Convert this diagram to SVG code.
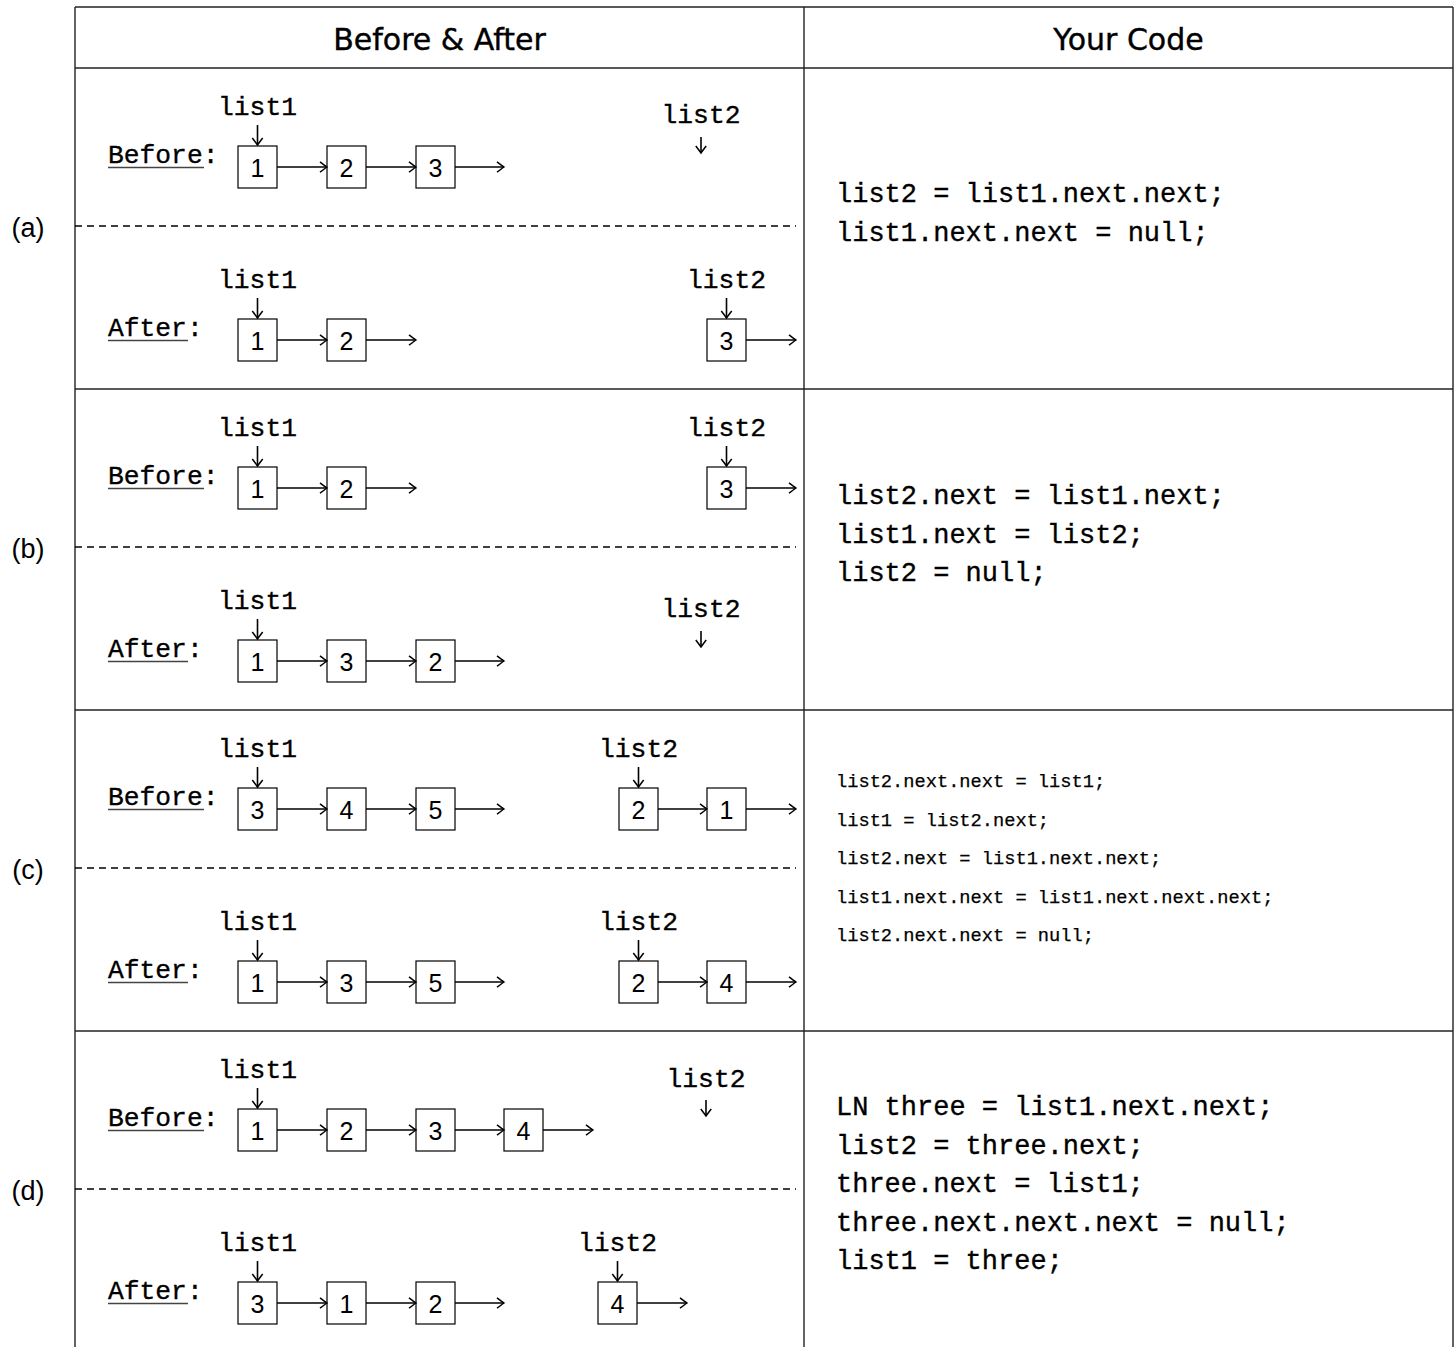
<svg xmlns="http://www.w3.org/2000/svg" width="1456" height="1347" viewBox="0 0 1456 1347">
<style>
.tt{font-family:"Liberation Mono","DejaVu Sans Mono",monospace;font-size:26.3px;fill:#000;stroke:#000;stroke-width:0.35}
.lbl{font-family:"Liberation Mono","DejaVu Sans Mono",monospace;font-size:26.3px;fill:#000;stroke:#000;stroke-width:0.35;text-anchor:middle}
.code{font-family:"Liberation Mono","DejaVu Sans Mono",monospace;font-size:27px;fill:#000;stroke:#000;stroke-width:0.35}
.codes{font-family:"Liberation Mono","DejaVu Sans Mono",monospace;font-size:18.7px;fill:#000;stroke:#000;stroke-width:0.25}
.num{font-family:"Liberation Sans",Arial,sans-serif;font-size:25px;fill:#000;text-anchor:middle}
.hdr{font-family:"DejaVu Sans",sans-serif;font-size:30px;fill:#000;stroke:#000;stroke-width:0.4;text-anchor:middle}
.row{font-family:"Liberation Sans",Arial,sans-serif;font-size:27px;fill:#000;text-anchor:middle}
.box{fill:#fff;stroke:#000;stroke-width:1.2}
.grid{stroke:#222;stroke-width:1.4;fill:none}
.dash{stroke:#000;stroke-width:1.6;stroke-dasharray:7 5;fill:none}
.ul{stroke:#444;stroke-width:1.3}
.c{stroke:#000;stroke-width:1.6;fill:none;marker-end:url(#ah)}
</style>
<defs>
<marker id="ah" markerUnits="userSpaceOnUse" markerWidth="14" markerHeight="14" refX="11" refY="7" orient="auto">
<path d="M4 1.8 Q9 5.6 11 7 Q9 8.4 4 12.2" fill="none" stroke="#000" stroke-width="1.5"/>
</marker>
</defs>
<rect width="1456" height="1347" fill="#fff"/>

<g id="table">
<line class="grid" x1="75" y1="7" x2="1453" y2="7"/>
<line class="grid" x1="75" y1="68" x2="1453" y2="68"/>
<line class="grid" x1="75" y1="389" x2="1453" y2="389"/>
<line class="grid" x1="75" y1="710" x2="1453" y2="710"/>
<line class="grid" x1="75" y1="1031" x2="1453" y2="1031"/>
<line class="grid" x1="75" y1="7" x2="75" y2="1347"/>
<line class="grid" x1="804" y1="7" x2="804" y2="1347"/>
<line class="grid" x1="1453" y1="7" x2="1453" y2="1347"/>
<line class="dash" x1="75" y1="226" x2="796" y2="226"/>
<line class="dash" x1="75" y1="547" x2="796" y2="547"/>
<line class="dash" x1="75" y1="868" x2="796" y2="868"/>
<line class="dash" x1="75" y1="1189" x2="796" y2="1189"/>
<text class="hdr" x="439.5" y="50">Before &amp; After</text>
<text class="hdr" x="1128.5" y="50">Your Code</text>
<text class="row" x="28" y="237">(a)</text>
<text class="row" x="28" y="558">(b)</text>
<text class="row" x="28" y="879">(c)</text>
<text class="row" x="28" y="1200">(d)</text>
</g>

<g id="labels">
<text class="tt" x="108" y="163">Before:</text><line class="ul" x1="108" y1="167.5" x2="204" y2="167.5"/>
<text class="tt" x="108" y="336">After:</text><line class="ul" x1="108" y1="340.5" x2="188" y2="340.5"/>
<text class="tt" x="108" y="484">Before:</text><line class="ul" x1="108" y1="488.5" x2="204" y2="488.5"/>
<text class="tt" x="108" y="657">After:</text><line class="ul" x1="108" y1="661.5" x2="188" y2="661.5"/>
<text class="tt" x="108" y="805">Before:</text><line class="ul" x1="108" y1="809.5" x2="204" y2="809.5"/>
<text class="tt" x="108" y="978">After:</text><line class="ul" x1="108" y1="982.5" x2="188" y2="982.5"/>
<text class="tt" x="108" y="1126">Before:</text><line class="ul" x1="108" y1="1130.5" x2="204" y2="1130.5"/>
<text class="tt" x="108" y="1299">After:</text><line class="ul" x1="108" y1="1303.5" x2="188" y2="1303.5"/>
</g>

<g id="pointers">
<text class="lbl" x="257.5" y="115">list1</text>
<text class="lbl" x="701" y="123">list2</text>
<text class="lbl" x="257.5" y="288">list1</text>
<text class="lbl" x="726.5" y="288">list2</text>
<text class="lbl" x="257.5" y="436">list1</text>
<text class="lbl" x="726.5" y="436">list2</text>
<text class="lbl" x="257.5" y="609">list1</text>
<text class="lbl" x="701" y="617">list2</text>
<text class="lbl" x="257.5" y="757">list1</text>
<text class="lbl" x="638.5" y="757">list2</text>
<text class="lbl" x="257.5" y="930">list1</text>
<text class="lbl" x="638.5" y="930">list2</text>
<text class="lbl" x="257.5" y="1078">list1</text>
<text class="lbl" x="706" y="1087">list2</text>
<text class="lbl" x="257.5" y="1251">list1</text>
<text class="lbl" x="617.5" y="1251">list2</text>
</g>

<g id="a-before">
<g id="a-b-1"><rect class="box" x="238" y="146" width="39" height="42"/><text class="num" x="257.5" y="177">1</text></g>
<g id="a-b-2"><rect class="box" x="327" y="146" width="39" height="42"/><text class="num" x="346.5" y="177">2</text></g>
<g id="a-b-3"><rect class="box" x="416" y="146" width="39" height="42"/><text class="num" x="435.5" y="177">3</text></g>
</g>
<g id="a-after">
<g id="a-a-1"><rect class="box" x="238" y="319" width="39" height="42"/><text class="num" x="257.5" y="350">1</text></g>
<g id="a-a-2"><rect class="box" x="327" y="319" width="39" height="42"/><text class="num" x="346.5" y="350">2</text></g>
<g id="a-a-3"><rect class="box" x="707" y="319" width="39" height="42"/><text class="num" x="726.5" y="350">3</text></g>
</g>
<g id="b-before">
<g id="b-b-1"><rect class="box" x="238" y="467" width="39" height="42"/><text class="num" x="257.5" y="498">1</text></g>
<g id="b-b-2"><rect class="box" x="327" y="467" width="39" height="42"/><text class="num" x="346.5" y="498">2</text></g>
<g id="b-b-3"><rect class="box" x="707" y="467" width="39" height="42"/><text class="num" x="726.5" y="498">3</text></g>
</g>
<g id="b-after">
<g id="b-a-1"><rect class="box" x="238" y="640" width="39" height="42"/><text class="num" x="257.5" y="671">1</text></g>
<g id="b-a-3"><rect class="box" x="327" y="640" width="39" height="42"/><text class="num" x="346.5" y="671">3</text></g>
<g id="b-a-2"><rect class="box" x="416" y="640" width="39" height="42"/><text class="num" x="435.5" y="671">2</text></g>
</g>
<g id="c-before">
<g id="c-b-3"><rect class="box" x="238" y="788" width="39" height="42"/><text class="num" x="257.5" y="819">3</text></g>
<g id="c-b-4"><rect class="box" x="327" y="788" width="39" height="42"/><text class="num" x="346.5" y="819">4</text></g>
<g id="c-b-5"><rect class="box" x="416" y="788" width="39" height="42"/><text class="num" x="435.5" y="819">5</text></g>
<g id="c-b-2"><rect class="box" x="619" y="788" width="39" height="42"/><text class="num" x="638.5" y="819">2</text></g>
<g id="c-b-1"><rect class="box" x="707" y="788" width="39" height="42"/><text class="num" x="726.5" y="819">1</text></g>
</g>
<g id="c-after">
<g id="c-a-1"><rect class="box" x="238" y="961" width="39" height="42"/><text class="num" x="257.5" y="992">1</text></g>
<g id="c-a-3"><rect class="box" x="327" y="961" width="39" height="42"/><text class="num" x="346.5" y="992">3</text></g>
<g id="c-a-5"><rect class="box" x="416" y="961" width="39" height="42"/><text class="num" x="435.5" y="992">5</text></g>
<g id="c-a-2"><rect class="box" x="619" y="961" width="39" height="42"/><text class="num" x="638.5" y="992">2</text></g>
<g id="c-a-4"><rect class="box" x="707" y="961" width="39" height="42"/><text class="num" x="726.5" y="992">4</text></g>
</g>
<g id="d-before">
<g id="d-b-1"><rect class="box" x="238" y="1109" width="39" height="42"/><text class="num" x="257.5" y="1140">1</text></g>
<g id="d-b-2"><rect class="box" x="327" y="1109" width="39" height="42"/><text class="num" x="346.5" y="1140">2</text></g>
<g id="d-b-3"><rect class="box" x="416" y="1109" width="39" height="42"/><text class="num" x="435.5" y="1140">3</text></g>
<g id="d-b-4"><rect class="box" x="504" y="1109" width="39" height="42"/><text class="num" x="523.5" y="1140">4</text></g>
</g>
<g id="d-after">
<g id="d-a-3"><rect class="box" x="238" y="1282" width="39" height="42"/><text class="num" x="257.5" y="1313">3</text></g>
<g id="d-a-1"><rect class="box" x="327" y="1282" width="39" height="42"/><text class="num" x="346.5" y="1313">1</text></g>
<g id="d-a-2"><rect class="box" x="416" y="1282" width="39" height="42"/><text class="num" x="435.5" y="1313">2</text></g>
<g id="d-a-4"><rect class="box" x="598" y="1282" width="39" height="42"/><text class="num" x="617.5" y="1313">4</text></g>
</g>

<g id="connectors">
<line class="c" x1="257.5" y1="125" x2="257.5" y2="145"/>
<line class="c" x1="701" y1="137" x2="701" y2="153"/>
<line class="c" x1="277" y1="167" x2="327" y2="167"/>
<line class="c" x1="366" y1="167" x2="416" y2="167"/>
<line class="c" x1="455" y1="167" x2="504" y2="167"/>
<line class="c" x1="257.5" y1="298" x2="257.5" y2="318"/>
<line class="c" x1="726.5" y1="298" x2="726.5" y2="318"/>
<line class="c" x1="277" y1="340" x2="327" y2="340"/>
<line class="c" x1="366" y1="340" x2="416" y2="340"/>
<line class="c" x1="746" y1="340" x2="796" y2="340"/>
<line class="c" x1="257.5" y1="446" x2="257.5" y2="466"/>
<line class="c" x1="726.5" y1="446" x2="726.5" y2="466"/>
<line class="c" x1="277" y1="488" x2="327" y2="488"/>
<line class="c" x1="366" y1="488" x2="416" y2="488"/>
<line class="c" x1="746" y1="488" x2="796" y2="488"/>
<line class="c" x1="257.5" y1="619" x2="257.5" y2="639"/>
<line class="c" x1="701" y1="631" x2="701" y2="647"/>
<line class="c" x1="277" y1="661" x2="327" y2="661"/>
<line class="c" x1="366" y1="661" x2="416" y2="661"/>
<line class="c" x1="455" y1="661" x2="504" y2="661"/>
<line class="c" x1="257.5" y1="767" x2="257.5" y2="787"/>
<line class="c" x1="638.5" y1="767" x2="638.5" y2="787"/>
<line class="c" x1="277" y1="809" x2="327" y2="809"/>
<line class="c" x1="366" y1="809" x2="416" y2="809"/>
<line class="c" x1="455" y1="809" x2="504" y2="809"/>
<line class="c" x1="658" y1="809" x2="707" y2="809"/>
<line class="c" x1="746" y1="809" x2="796" y2="809"/>
<line class="c" x1="257.5" y1="940" x2="257.5" y2="960"/>
<line class="c" x1="638.5" y1="940" x2="638.5" y2="960"/>
<line class="c" x1="277" y1="982" x2="327" y2="982"/>
<line class="c" x1="366" y1="982" x2="416" y2="982"/>
<line class="c" x1="455" y1="982" x2="504" y2="982"/>
<line class="c" x1="658" y1="982" x2="707" y2="982"/>
<line class="c" x1="746" y1="982" x2="796" y2="982"/>
<line class="c" x1="257.5" y1="1088" x2="257.5" y2="1108"/>
<line class="c" x1="706" y1="1100" x2="706" y2="1116"/>
<line class="c" x1="277" y1="1130" x2="327" y2="1130"/>
<line class="c" x1="366" y1="1130" x2="416" y2="1130"/>
<line class="c" x1="455" y1="1130" x2="504" y2="1130"/>
<line class="c" x1="543" y1="1130" x2="593" y2="1130"/>
<line class="c" x1="257.5" y1="1261" x2="257.5" y2="1281"/>
<line class="c" x1="617.5" y1="1261" x2="617.5" y2="1281"/>
<line class="c" x1="277" y1="1303" x2="327" y2="1303"/>
<line class="c" x1="366" y1="1303" x2="416" y2="1303"/>
<line class="c" x1="455" y1="1303" x2="504" y2="1303"/>
<line class="c" x1="637" y1="1303" x2="687" y2="1303"/>
</g>

<g id="code">
<text class="code" x="836" y="202">list2 = list1.next.next;</text>
<text class="code" x="836" y="241">list1.next.next = null;</text>
<text class="code" x="836" y="504">list2.next = list1.next;</text>
<text class="code" x="836" y="543">list1.next = list2;</text>
<text class="code" x="836" y="581">list2 = null;</text>
<text class="codes" x="836" y="787">list2.next.next = list1;</text>
<text class="codes" x="836" y="826">list1 = list2.next;</text>
<text class="codes" x="836" y="864">list2.next = list1.next.next;</text>
<text class="codes" x="836" y="903">list1.next.next = list1.next.next.next;</text>
<text class="codes" x="836" y="941">list2.next.next = null;</text>
<text class="code" x="836" y="1115">LN three = list1.next.next;</text>
<text class="code" x="836" y="1154">list2 = three.next;</text>
<text class="code" x="836" y="1192">three.next = list1;</text>
<text class="code" x="836" y="1231">three.next.next.next = null;</text>
<text class="code" x="836" y="1269">list1 = three;</text>
</g>
</svg>
